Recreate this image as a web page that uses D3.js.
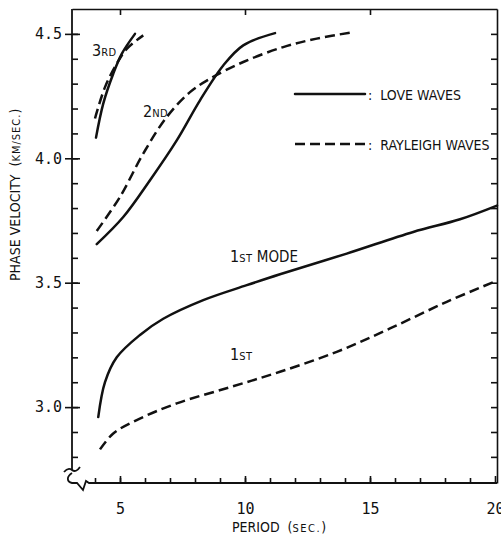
<!DOCTYPE html>
<html>
<head>
<meta charset="utf-8">
<script src="https://cdnjs.cloudflare.com/ajax/libs/d3/7.8.5/d3.min.js"></script>
<style>
body { margin: 0; background: #fff; }
text { font-family: "Liberation Sans Narrow", "DejaVu Sans Condensed", sans-serif; font-size: 14px; fill: #111; white-space: pre; }
.axis text { font-family: "DejaVu Sans Mono", monospace; font-size: 15px; fill: #111; }
.axis line, .axis path { stroke: #111; stroke-width: 1.6; }
.curve { fill: none; stroke: #111; stroke-width: 2.5; stroke-linecap: round; }
.dashed { stroke-dasharray: 10, 5; stroke-linecap: butt; }
</style>
</head>
<body>
<div id="chart"></div>
<script>
// [period (sec.), phase velocity (km/sec.)]
var love1 = [[4.13, 2.96], [4.4, 3.10], [4.87, 3.20], [5.8, 3.29], [6.73, 3.355], [8.33, 3.43],
    [10.07, 3.49], [11.4, 3.534], [14.07, 3.617], [16.73, 3.704], [18.6, 3.755], [20.08, 3.81]];
var rayleigh1 = [[4.2, 2.83], [4.73, 2.894], [5.67, 2.948], [7.27, 3.015], [9.4, 3.08], [11.4, 3.142],
    [13.67, 3.222], [15.8, 3.316], [18.07, 3.423], [20.0, 3.505]];
var love2 = [[4.07, 3.655], [5.13, 3.764], [6.2, 3.912], [7.27, 4.072], [8.2, 4.233], [9.13, 4.373],
    [9.93, 4.454], [11.2, 4.503]];
var rayleigh2 = [[4.07, 3.708], [5.0, 3.845], [5.93, 4.019], [6.87, 4.166], [7.8, 4.266], [8.6, 4.32],
    [9.93, 4.387], [11.53, 4.447], [12.87, 4.481], [14.33, 4.507]];
var love3 = [[4.04, 4.083], [4.33, 4.22], [4.73, 4.34], [5.07, 4.42], [5.6, 4.50]];
var rayleigh3 = [[4.0, 4.16], [4.4, 4.286], [4.87, 4.38], [5.27, 4.44], [5.93, 4.494]];

var xTicks = [5, 10, 15, 20];
var yTicks = [3.0, 3.5, 4.0, 4.5];
var xMinorTicks = d3.range(4, 20, 1);
var yMinorTicks = d3.range(28, 46, 1).map(function(d) { return d / 10; });

var width = 501,
    height = 546;

var svg = d3.select('#chart')
    .append('svg')
    .attr('width', width)
    .attr('height', height);

// Scales
var x = d3.scaleLinear()
    .domain([3.08, 20.08])
    .range([72, 497]);

var y = d3.scaleLinear()
    .domain([2.695, 4.6])
    .range([483, 9]);

// Bottom axis: minor ticks, major ticks, labels
svg.append('g')
    .attr('class', 'axis')
    .attr('transform', 'translate(0,' + y.range()[0] + ')')
    .call(d3.axisBottom(x).tickValues(xMinorTicks).tickSize(-5).tickSizeOuter(0).tickFormat(''))
    .select('.domain').remove();

svg.append('g')
    .attr('class', 'axis')
    .attr('transform', 'translate(0,' + y.range()[0] + ')')
    .call(d3.axisBottom(x).tickValues(xTicks).tickSize(-7).tickSizeOuter(0).tickPadding(20).tickFormat(d3.format('d')))
    .select('.domain').remove();

// Top axis
svg.append('g')
    .attr('class', 'axis')
    .attr('transform', 'translate(0,' + y.range()[1] + ')')
    .call(d3.axisTop(x).tickValues([5, 10, 15]).tickSize(-6).tickSizeOuter(0).tickFormat(''));

// Right axis
svg.append('g')
    .attr('class', 'axis')
    .attr('transform', 'translate(' + x.range()[1] + ',0)')
    .call(d3.axisRight(y).tickValues(yMinorTicks).tickSize(-6).tickSizeOuter(0).tickFormat(''));

// Left axis: inward minor ticks, crossing major ticks with labels
svg.append('g')
    .attr('class', 'axis')
    .attr('transform', 'translate(' + x.range()[0] + ',0)')
    .call(d3.axisLeft(y).tickValues(yMinorTicks).tickSize(-6).tickFormat(''))
    .select('.domain').remove();

var left = svg.append('g')
    .attr('class', 'axis')
    .attr('transform', 'translate(' + x.range()[0] + ',0)')
    .call(d3.axisLeft(y).tickValues(yTicks).tickSize(7).tickPadding(3).tickFormat(d3.format('.1f')));
left.select('.domain').remove();
left.selectAll('.tick line').attr('x2', -7).attr('x1', 8);

// Left axis line, bottom axis line and the axis break
var x0 = x.range()[0], y0 = y.range()[0];
svg.append('path')
    .attr('d', 'M' + x0 + ',' + y.range()[1] + 'V' + (y0 - 13))
    .attr('stroke', '#111').attr('stroke-width', 1.8).attr('fill', 'none');
svg.append('path')
    .attr('d', 'M' + (x0 - 8) + ',' + (y0 - 11) + 'q4,-5 8,-2t8,-3')
    .attr('stroke', '#111').attr('stroke-width', 1.8).attr('fill', 'none');
svg.append('path')
    .attr('d', 'M' + x0 + ',' + (y0 - 10) + 'C' + (x0 - 6) + ',' + (y0 - 6) + ' ' + (x0 - 5) + ',' + (y0 - 1) + ' ' + x0 + ',' + y0 +
        'L' + (x0 + 5) + ',' + y0 + 'L' + (x0 + 11) + ',' + (y0 + 7) + 'L' + (x0 + 14) + ',' + (y0 - 2) + 'L' + (x0 + 17) + ',' + y0 +
        'H' + x.range()[1])
    .attr('stroke', '#111').attr('stroke-width', 1.8).attr('fill', 'none');

// Curves
var line = d3.line()
    .x(function(d) { return x(d[0]); })
    .y(function(d) { return y(d[1]); })
    .curve(d3.curveCatmullRom);

[love1, love2, love3].forEach(function(s) {
    svg.append('path').datum(s).attr('class', 'curve').attr('d', line);
});
[rayleigh1, rayleigh2, rayleigh3].forEach(function(s) {
    svg.append('path').datum(s).attr('class', 'curve dashed').attr('d', line);
});

// Mode labels (ordinal suffix in small caps)
function modeLabel(px, py, big, small, rest) {
    var t = svg.append('text').attr('x', px).attr('y', py);
    t.append('tspan').style('font-size', '16px').text(big);
    t.append('tspan').style('font-size', '11px').style('letter-spacing', '0.5px').text(small);
    if (rest) t.append('tspan').style('font-size', '15px').text(rest);
}
modeLabel(92, 56, '3', 'RD');
modeLabel(143, 117, '2', 'ND');
modeLabel(230, 262, '1', 'ST', ' MODE');
modeLabel(230, 360, '1', 'ST');

// Legend
svg.append('line')
    .attr('class', 'curve')
    .attr('x1', 295).attr('x2', 365).attr('y1', 94).attr('y2', 94);
svg.append('text').attr('x', 368).attr('y', 100).text(':  LOVE WAVES');

svg.append('line')
    .attr('class', 'curve dashed')
    .attr('x1', 295).attr('x2', 365).attr('y1', 144).attr('y2', 144);
svg.append('text').attr('x', 368).attr('y', 150).text(':  RAYLEIGH WAVES');

// Axis titles
var xl = svg.append('text').attr('x', 232).attr('y', 532);
xl.append('tspan').text('PERIOD  (');
xl.append('tspan').style('font-size', '11px').style('letter-spacing', '1.5px').text('SEC.');
xl.append('tspan').text(')');

var yl = svg.append('text').attr('transform', 'translate(20,281) rotate(-90)');
yl.append('tspan').text('PHASE VELOCITY  (');
yl.append('tspan').style('font-size', '11px').style('letter-spacing', '1px').text('KM/SEC.');
yl.append('tspan').text(')');
</script>
</body>
</html>
